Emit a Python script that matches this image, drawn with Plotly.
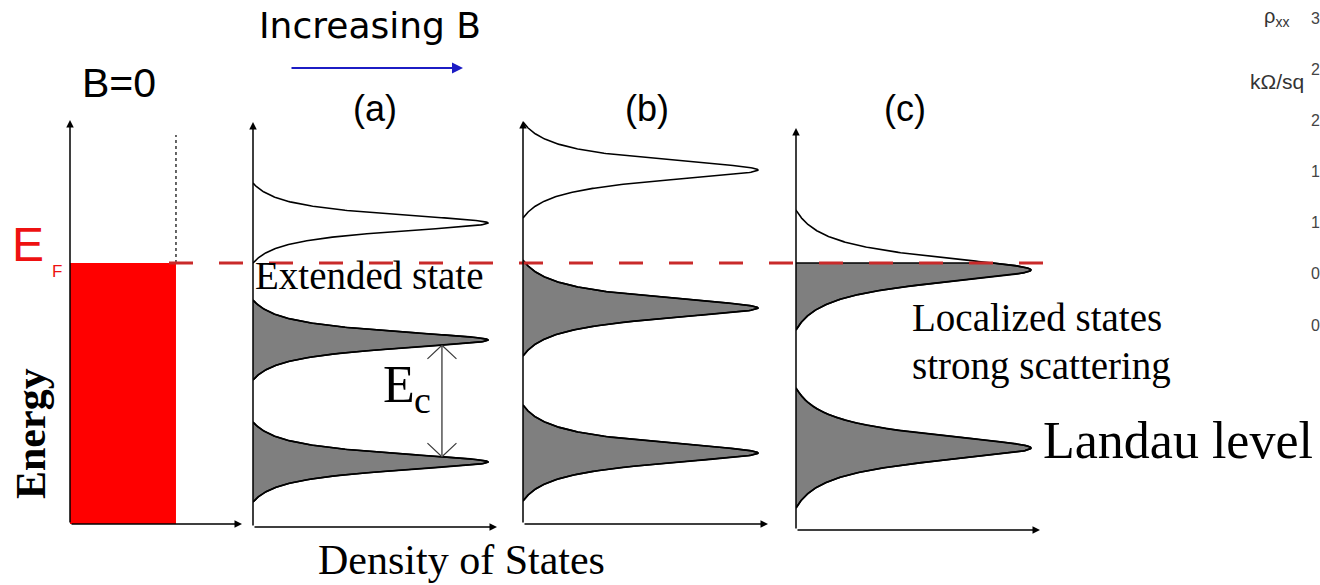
import numpy as np
import plotly.graph_objects as go

W, H = 1320, 585

# ---- data -------------------------------------------------------------
# Landau-level centre energies (arbitrary units, Fermi energy at 0)
levels_a = [-4.975, -1.925, 1.0]
levels_b = [-4.75, -1.125, 2.325]
levels_c = [-4.625, -0.175]
# half-extent of each broadened level in energy
halfwidth_a = 1.0
halfwidth_b = 1.2
halfwidth_c = 1.5
peak_dos = 1.0           # DOS at the centre of a level
fermi_energy = 0.0
dos_b0 = 0.451           # constant 2D density of states at B = 0
b0_band_top = 3.2        # top of the dotted (empty) B = 0 band
rho_ticks = [0.0, 0.5, 1.0, 1.5, 2.0, 2.5, 3.0]
rho_tick_labels = ["0.0", "0.5", "1.0", "1.5", "2.0", "2.5", "3.0"]

# ---- layout geometry (pixels) -----------------------------------------
PX_PER_E = 40.0
EF_PX = 263
PX_PER_DOS = 235.0
GAMMA_FRAC = 0.28


def e_at(py):
    return (EF_PX - py) / PX_PER_E


def P(xpx, ypx):
    return xpx / W, 1 - ypx / H


geom = [
    dict(name="B=0", x0=70, x1=242, top=120, bot=524),
    dict(name="(a)", x0=253, x1=497, top=122, bot=527),
    dict(name="(b)", x0=523, x1=768, top=121, bot=524),
    dict(name="(c)", x0=796, x1=1040, top=128, bot=530),
]
panel_levels = {"(a)": (levels_a, halfwidth_a),
                "(b)": (levels_b, halfwidth_b),
                "(c)": (levels_c, halfwidth_c)}

YRANGE = [e_at(H), e_at(0)]

SANS = "Liberation Sans, Arial, sans-serif"
SERIF = "Liberation Serif, Times New Roman, serif"
GREY = "#7f7f7f"
LW = 1.6


def level_dos(E, centre, half):
    g = GAMMA_FRAC * half
    base = 1.0 / (1.0 + (half / g) ** 2)
    prof = 1.0 / (1.0 + ((E - centre) / g) ** 2)
    return peak_dos * np.clip((prof - base) / (1.0 - base), 0, None)


def level_offset(dos, half):
    # energy distance from a level centre at which the DOS equals `dos`
    g = GAMMA_FRAC * half
    base = 1.0 / (1.0 + (half / g) ** 2)
    prof = dos / peak_dos * (1.0 - base) + base
    return g * np.sqrt(1.0 / prof - 1.0)


fig = go.Figure()
layout = dict(
    width=W, height=H, margin=dict(l=0, r=0, t=0, b=0, autoexpand=False),
    paper_bgcolor="white", plot_bgcolor="rgba(0,0,0,0)",
    showlegend=False,
)
annotations = []

for i, g in enumerate(geom, start=1):
    xa = "x" if i == 1 else f"x{i}"
    ya = "y" if i == 1 else f"y{i}"
    xmax = (g["x1"] - g["x0"]) / PX_PER_DOS
    layout["xaxis" if i == 1 else f"xaxis{i}"] = dict(
        domain=[g["x0"] / W, g["x1"] / W], range=[0, xmax], visible=False,
        anchor=ya, fixedrange=True, automargin=False)
    layout["yaxis" if i == 1 else f"yaxis{i}"] = dict(
        domain=[0, 1], range=YRANGE, visible=False, anchor=xa, fixedrange=True,
        automargin=False)

    ebot = e_at(g["bot"])
    # energy axis and DOS axis with arrowheads
    annotations.append(dict(xref=xa, yref=ya, axref=xa, ayref=ya,
                            x=0, y=e_at(g["top"]), ax=0, ay=ebot,
                            showarrow=True, arrowhead=2, arrowsize=1,
                            arrowwidth=1.5, arrowcolor="black", text=""))
    annotations.append(dict(xref=xa, yref=ya, axref=xa, ayref=ya,
                            x=xmax, y=ebot, ax=0, ay=ebot,
                            showarrow=True, arrowhead=2, arrowsize=1,
                            arrowwidth=1.5, arrowcolor="black", text=""))

    if g["name"] == "B=0":
        fig.add_trace(go.Scatter(
            x=[0, dos_b0, dos_b0, 0, 0], y=[ebot, ebot, fermi_energy, fermi_energy, ebot],
            fill="toself", fillcolor="#ff0000", mode="lines", line=dict(width=0),
            xaxis=xa, yaxis=ya, hoverinfo="skip"))
        fig.add_trace(go.Scatter(
            x=[dos_b0, dos_b0], y=[fermi_energy, b0_band_top], mode="lines",
            line=dict(color="black", width=1.2, dash="dot"),
            xaxis=xa, yaxis=ya, hoverinfo="skip"))
        continue

    lev, half = panel_levels[g["name"]]
    for c in lev:
        e_lo, e_hi = c - half, c + half
        if e_lo < fermi_energy:
            top = min(e_hi, fermi_energy)
            ef = np.linspace(e_lo, top, 300)
            fig.add_trace(go.Scatter(
                x=np.concatenate([[0], level_dos(ef, c, half), [0]]),
                y=np.concatenate([[e_lo], ef, [top]]),
                fill="toself", fillcolor=GREY, mode="lines",
                line=dict(color="black", width=LW),
                xaxis=xa, yaxis=ya, hoverinfo="skip"))
        e = np.linspace(e_lo, e_hi, 400)
        fig.add_trace(go.Scatter(
            x=level_dos(e, c, half), y=e, mode="lines",
            line=dict(color="black", width=LW),
            xaxis=xa, yaxis=ya, hoverinfo="skip"))

# cyclotron gap E_c between the two lowest levels of panel (a):
# a plain shaft with open V heads at both ends
ec_dos = 0.804
ec_top = levels_a[1] - level_offset(ec_dos, halfwidth_a)
ec_bot = levels_a[0] + level_offset(ec_dos, halfwidth_a)
EC_COL = "#3a3a3a"
annotations.append(dict(xref="x2", yref="y2", axref="x2", ayref="y2",
                        x=ec_dos, y=ec_top, ax=ec_dos, ay=ec_bot,
                        showarrow=True, arrowhead=0, arrowwidth=1.3,
                        arrowcolor=EC_COL, text=""))
for tip, dy in ((ec_top, 15), (ec_bot, -15)):
    for dx in (-16, 16):
        annotations.append(dict(xref="x2", yref="y2", x=ec_dos, y=tip,
                                ax=dx, ay=dy, showarrow=True, arrowhead=0,
                                arrowwidth=1.2, arrowcolor=EC_COL, text=""))

# partial rho_xx scale running off the right edge
layout["xaxis5"] = dict(domain=[1309 / W, 1310 / W], range=[0, 1], visible=False,
                        anchor="y5", fixedrange=True, automargin=False)
layout["yaxis5"] = dict(domain=[1 - 325 / H, 1 - 18 / H], range=[0, 3], anchor="x5",
                        side="right", tickvals=rho_ticks, ticktext=rho_tick_labels,
                        ticks="", showline=False, showgrid=False, zeroline=False,
                        tickfont=dict(family=SANS, size=16, color="#444"),
                        ticklabeloverflow="allow", automargin=False,
                        fixedrange=True)
fig.add_trace(go.Scatter(x=[0, 0], y=[rho_ticks[0], rho_ticks[-1]], mode="lines",
                         line=dict(width=0), xaxis="x5", yaxis="y5", hoverinfo="skip"))


def text(s, xpx, ypx, size, family=SANS, color="black", xanchor="center", **kw):
    x, y = P(xpx, ypx)
    annotations.append(dict(xref="paper", yref="paper", x=x, y=y, text=s,
                            showarrow=False, xanchor=xanchor, yanchor="middle",
                            font=dict(family=family, size=size, color=color), **kw))


text("Increasing B", 370, 25.5, 36, family="DejaVu Sans, sans-serif")
bx, by = P(463, 68)
annotations.append(dict(xref="paper", yref="paper", x=bx, y=by, ax=-173, ay=0,
                        showarrow=True, arrowhead=2, arrowsize=1.1, arrowwidth=2,
                        arrowcolor="#1c1cc4", text=""))
text("B=0", 119, 83, 41)
text("(a)", 375, 108.5, 36)
text("(b)", 647, 108.5, 36)
text("(c)", 905, 108.5, 36)
text("E", 10, 244.5, 48, color="#ee1111", xanchor="left")
text("F", 50, 271, 17, color="#ee1111", xanchor="left")
text("<b>Energy</b>", 31, 434, 42, family=SERIF, textangle=-90)
text("Extended state", 253, 275.5, 39, family=SERIF, xanchor="left")
text("E", 381, 384.5, 52, family=SERIF, xanchor="left")
text("c", 412, 400, 38, family=SERIF, xanchor="left")
text("Localized states", 910, 317.5, 39, family=SERIF, xanchor="left")
text("strong scattering", 910, 365.5, 39, family=SERIF, xanchor="left")
text("Landau level", 1041, 440.5, 52, family=SERIF, xanchor="left")
text("Density of States", 462, 560, 42, family=SERIF)
text("ρ<sub>xx</sub>", 1276, 17, 20, color="#333")
text("kΩ/sq", 1277, 82, 21, color="#333")

layout["annotations"] = annotations
layout["shapes"] = [dict(type="line", xref="paper", yref="y",
                         x0=169 / W, x1=1043 / W, y0=fermi_energy, y1=fermi_energy,
                         line=dict(color="#c92a2a", width=3, dash="24px,26px"),
                         layer="above")]
fig.update_layout(**layout)
fig.write_html("out.html")
